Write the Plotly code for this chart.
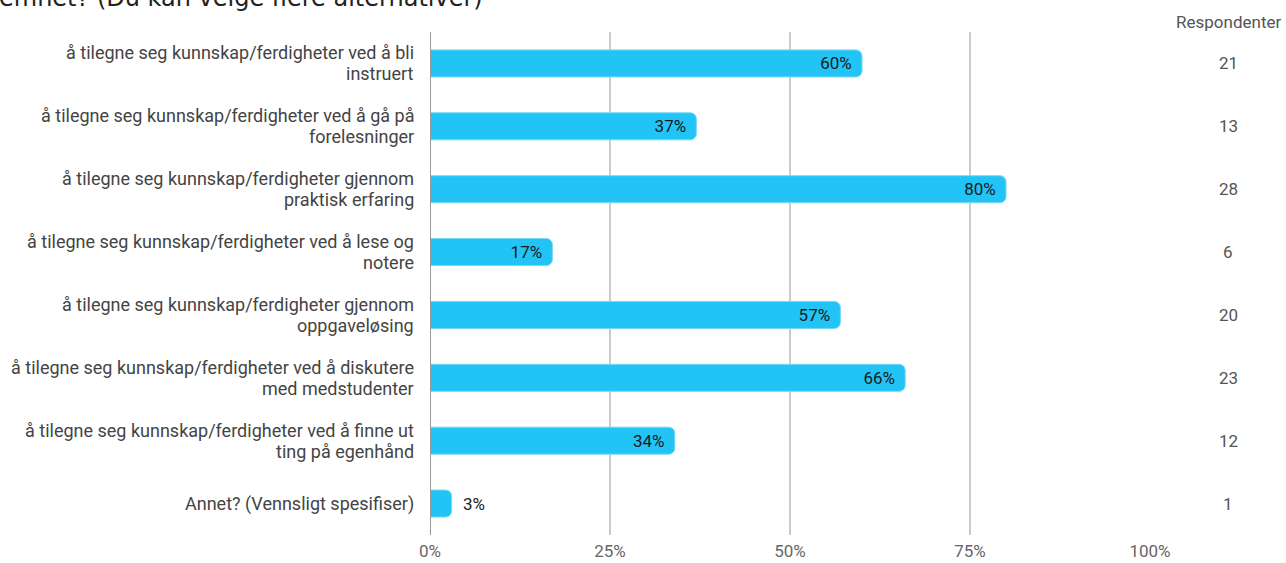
import plotly.graph_objects as go

categories = [
    "å tilegne seg kunnskap/ferdigheter ved å bli<br>instruert",
    "å tilegne seg kunnskap/ferdigheter ved å gå på<br>forelesninger",
    "å tilegne seg kunnskap/ferdigheter gjennom<br>praktisk erfaring",
    "å tilegne seg kunnskap/ferdigheter ved å lese og<br>notere",
    "å tilegne seg kunnskap/ferdigheter gjennom<br>oppgaveløsing",
    "å tilegne seg kunnskap/ferdigheter ved å diskutere<br>med medstudenter",
    "å tilegne seg kunnskap/ferdigheter ved å finne ut<br>ting på egenhånd",
    "Annet? (Vennsligt spesifiser)",
]
percent = [60, 37, 80, 17, 57, 66, 34, 3]
respondents = [21, 13, 28, 6, 20, 23, 12, 1]
tick_vals = [0, 25, 50, 75, 100]
tick_text = ["0%", "25%", "50%", "75%", "100%"]
title_text = "emnet? (Du kan velge flere alternativer)"
column_header = "Respondenter"

W, H = 1286, 563
L, R, T, B = 430, 1150, 32, 535
pw, ph = R - L, B - T
FS = 17
LINE = 21

def px(x):
    return (x - L) / pw

def py(y):
    return (B - y) / ph

positions = ["outside" if p < 8 else "inside" for p in percent]
labels = [f"{p}%\u00a0\u200a" if pos == "inside" else f"\u00a0\u00a0{p}%"
          for p, pos in zip(percent, positions)]

fig = go.Figure()
fig.add_trace(go.Bar(
    y=categories,
    x=percent,
    orientation="h",
    width=0.43,
    marker=dict(color="#21C4F5", line=dict(color="#7ad8f5", width=1), cornerradius=6),
    text=labels,
    textposition=positions,
    insidetextanchor="end",
    insidetextfont=dict(family="Roboto", size=FS, color="#1a1a1a"),
    outsidetextfont=dict(family="Roboto", size=FS, color="#222"),
    cliponaxis=False,
    hoverinfo="skip",
))

annotations = [
    dict(text=title_text, xref="paper", yref="paper", x=px(-3), y=py(-1.5),
         xanchor="left", yanchor="middle", showarrow=False,
         font=dict(family="DejaVu Sans", size=24, color="#222")),
    dict(text=column_header, xref="paper", yref="paper", x=px(1228), y=py(22),
         xanchor="center", yanchor="middle", showarrow=False,
         font=dict(family="Roboto", size=FS, color="#555")),
]
for cat, r in zip(categories, respondents):
    annotations.append(dict(text=str(r), xref="paper", yref="y", x=px(1228), y=cat,
                            xanchor="center", yanchor="middle", showarrow=False,
                            font=dict(family="Roboto", size=FS, color="#555")))
    lines = cat.split("<br>")
    n = len(lines)
    for i, ln in enumerate(lines):
        annotations.append(dict(text=ln, xref="paper", yref="y", x=px(416), y=cat,
                                xanchor="right", yanchor="middle", showarrow=False,
                                yshift=((n - 1) / 2 - i) * LINE,
                                font=dict(family="Roboto", size=18, color="#444")))

fig.update_layout(
    width=W, height=H,
    margin=dict(l=L, r=W - R, t=T, b=H - B, pad=0),
    paper_bgcolor="white", plot_bgcolor="white",
    showlegend=False,
    annotations=annotations,
    xaxis=dict(range=[0, 100], tickvals=tick_vals, ticktext=tick_text,
               automargin=False,
               showgrid=True, gridcolor="#cccccc", gridwidth=1.5,
               zeroline=False, showline=False, ticks="", ticklabelstandoff=4,
               tickfont=dict(family="Roboto", size=FS, color="#666")),
    yaxis=dict(autorange="reversed", showgrid=False, zeroline=False, ticks="",
               automargin=False, showline=False, showticklabels=False),
    shapes=[dict(type="line", xref="x", yref="paper", x0=0, x1=0, y0=0, y1=1,
                 line=dict(color="#999999", width=2), layer="above")],
)

fig.write_html("out.html", config={"displayModeBar": False},
               post_script="document.body.style.margin='0px';")
